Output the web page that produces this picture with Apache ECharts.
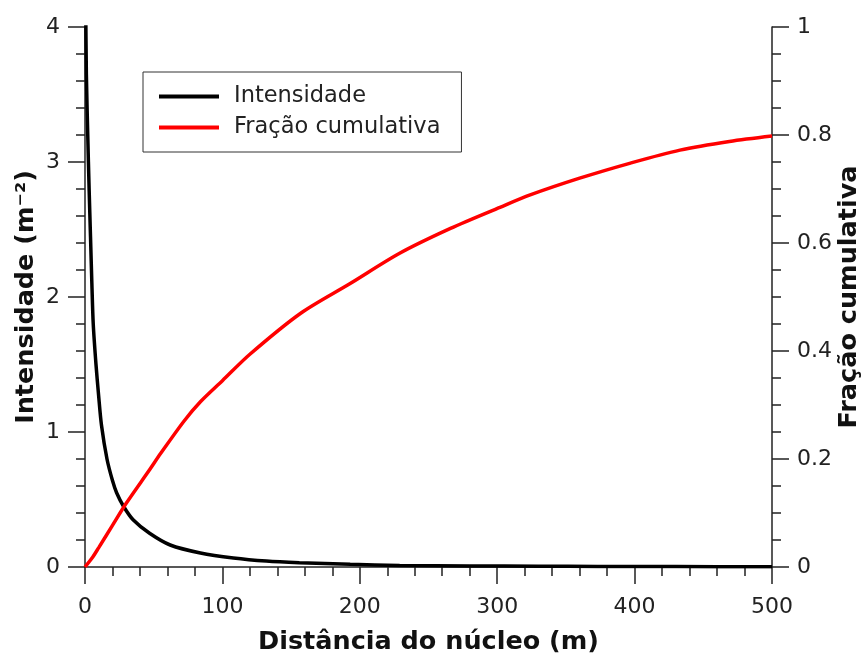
<!DOCTYPE html>
<html>
<head>
<meta charset="utf-8">
<script src="https://cdn.jsdelivr.net/npm/echarts@6/dist/echarts.min.js"></script>
<style>
  html, body { margin: 0; padding: 0; background: #fff; }
  #chart { width: 861px; height: 653px; }
</style>
</head>
<body>
<div id="chart"></div>
<script>
// Intensidade (m^-2) em função da distância ao núcleo (m)
const distIntensidade = [0.4, 1, 2, 3, 4, 5, 6, 8, 10, 12, 16, 20, 23, 28, 35, 47, 62, 84, 108, 132, 156, 193, 229, 280, 330, 373, 430, 500];
const intensidade     = [4.3, 3.65, 3.2, 2.8, 2.45, 2.1, 1.8, 1.5, 1.26, 1.05, 0.8, 0.64, 0.55, 0.45, 0.35, 0.25, 0.163, 0.104, 0.067, 0.044, 0.032, 0.02, 0.012, 0.008, 0.006, 0.004, 0.003, 0.002];

// Fração cumulativa em função da distância ao núcleo (m)
const distFracao = [0, 5, 10, 20, 30, 47, 55, 72, 84, 100, 120, 157, 193, 229, 266, 302, 324, 360, 397, 433, 469, 500];
const fracao     = [0, 0.016, 0.036, 0.077, 0.118, 0.18, 0.21, 0.27, 0.306, 0.345, 0.394, 0.47, 0.525, 0.581, 0.627, 0.666, 0.689, 0.72, 0.748, 0.772, 0.788, 0.798];

const xTicks = { min: 0, max: 500, interval: 100 };
const yLeftTicks = { min: 0, max: 4, interval: 1 };
const yRightTicks = { min: 0, max: 1, interval: 0.2 };

const pairs = (xs, ys) => xs.map((x, i) => [x, ys[i]]);

const FONT = 'DejaVu Sans';
const AXIS_COLOR = '#222';

function axisCommon(minorSplit, labelMargin) {
  return {
    axisLine: { show: true, onZero: false, lineStyle: { color: AXIS_COLOR, width: 1.5 } },
    axisTick: { show: true, inside: false, length: 17, lineStyle: { color: AXIS_COLOR, width: 1.5 } },
    minorTick: { show: true, splitNumber: minorSplit, length: 9, lineStyle: { color: AXIS_COLOR, width: 1.5 } },
    splitLine: { show: false },
    minorSplitLine: { show: false },
    axisLabel: { color: AXIS_COLOR, fontFamily: FONT, fontSize: 22, margin: labelMargin },
    nameTextStyle: { color: '#111', fontFamily: FONT, fontSize: 25.5, fontWeight: 'bold' },
    nameLocation: 'middle',
    nameMoveOverlap: false
  };
}

const chart = echarts.init(document.getElementById('chart'), null, { renderer: 'canvas' });

chart.setOption({
  animation: false,
  backgroundColor: '#fff',
  grid: { left: 85, right: 89, top: 27, bottom: 86, containLabel: false, outerBoundsMode: 'none' },
  legend: {
    left: 143,
    top: 72,
    orient: 'vertical',
    padding: [13, 21, 13, 16],
    itemGap: 8,
    itemWidth: 60,
    itemHeight: 4,
    icon: 'rect',
    borderColor: '#333',
    borderWidth: 1,
    textStyle: { color: '#222', fontFamily: FONT, fontSize: 22.5, lineHeight: 22, padding: [0, 0, 0, 10] },
    data: ['Intensidade', 'Fração cumulativa']
  },
  xAxis: Object.assign(axisCommon(5, 29), {
    type: 'value',
    min: xTicks.min, max: xTicks.max, interval: xTicks.interval,
    name: 'Distância do núcleo (m)',
    nameGap: 62
  }),
  yAxis: [
    Object.assign(axisCommon(5, 25), {
      type: 'value',
      position: 'left',
      min: yLeftTicks.min, max: yLeftTicks.max, interval: yLeftTicks.interval,
      name: 'Intensidade (m⁻²)',
      nameGap: 46
    }),
    Object.assign(axisCommon(4, 25), {
      type: 'value',
      position: 'right',
      min: yRightTicks.min, max: yRightTicks.max, interval: yRightTicks.interval,
      name: 'Fração cumulativa',
      nameGap: 64
    })
  ],
  series: [
    {
      name: 'Intensidade',
      type: 'line',
      yAxisIndex: 0,
      data: pairs(distIntensidade, intensidade),
      showSymbol: false,
      smooth: 0.3,
      clip: true,
      lineStyle: { color: '#000', width: 3.5 },
      itemStyle: { color: '#000' }
    },
    {
      name: 'Fração cumulativa',
      type: 'line',
      yAxisIndex: 1,
      data: pairs(distFracao, fracao),
      showSymbol: false,
      smooth: 0.3,
      clip: true,
      lineStyle: { color: '#ff0000', width: 3.5 },
      itemStyle: { color: '#ff0000' }
    }
  ]
});
</script>
</body>
</html>
